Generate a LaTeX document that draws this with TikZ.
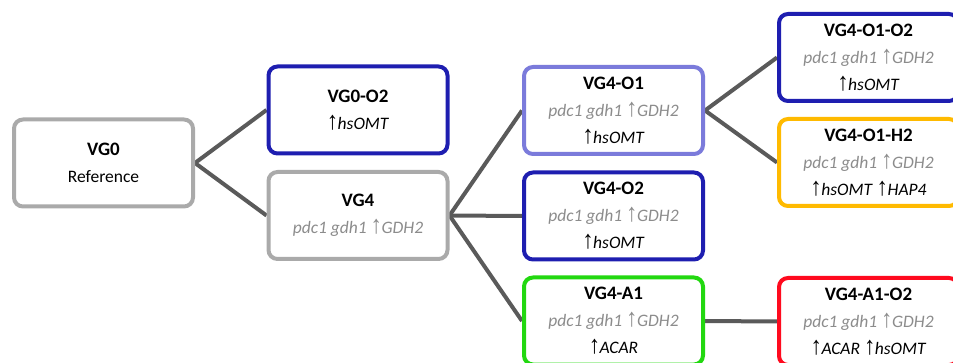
\documentclass[tikz,border=0pt]{standalone}
\usepackage{fontspec}
\setmainfont{Carlito}
\newfontfamily\arrowfont{Liberation Sans}
\usetikzlibrary{backgrounds}

\definecolor{basegray}{HTML}{AAAAAA}
\definecolor{darkblue}{HTML}{1E1EB0}
\definecolor{lightblue}{HTML}{7B7BDB}
\definecolor{limegreen}{HTML}{22D810}
\definecolor{amber}{HTML}{FFBA00}
\definecolor{brightred}{HTML}{FF0A1E}
\definecolor{linkgray}{HTML}{5A5A5A}
\definecolor{notegray}{HTML}{8C8C8C}

\newcommand\upar{\scalebox{1.3}[1.45]{\arrowfont\char"2191}\kern-0.5pt}
\newcommand\strainname[1]{{\fontsize{19}{27}\selectfont\bfseries #1}}
\newcommand\parentnote{{\color{notegray}\itshape pdc1 gdh1 \upar GDH2}}

\tikzset{
  strain/.style={draw=#1, rectangle, rounded corners=9pt, line width=4pt,
    minimum width=179pt, minimum height=87pt, inner sep=0pt, fill=white,
    align=center, font=\fontsize{17.5}{27}\selectfont},
  link/.style={draw=linkgray, line width=4pt}
}

\begin{document}
\begin{tikzpicture}[x=1pt,y=-1pt]
\useasboundingbox (0,0) rectangle (953,363);
\clip (0,0) rectangle (953,363);

\node[strain=basegray]  (vg0)   at (103.5,163)  {\strainname{VG0}\\ Reference};
\node[strain=darkblue]  (vg0o2) at (358,110)    {\strainname{VG0-O2}\\ \upar\textit{hsOMT}};
\node[strain=basegray]  (vg4)   at (358,215.5)  {\strainname{VG4}\\ \parentnote};

\node[strain=lightblue] (vg4o1) at (613.5,110.5) {\strainname{VG4-O1}\\ \parentnote\\ \upar\textit{hsOMT}};
\node[strain=darkblue]  (vg4o2) at (613.5,216)   {\strainname{VG4-O2}\\ \parentnote\\ \upar\textit{hsOMT}};
\node[strain=limegreen] (vg4a1) at (613.5,321)   {\strainname{VG4-A1}\\ \parentnote\\ \upar\textit{ACAR}};

\node[strain=darkblue]  (o1o2)  at (868.5,57.5)  {\strainname{VG4-O1-O2}\\ \parentnote\\ \upar\textit{hsOMT}};
\node[strain=amber]     (o1h2)  at (868.5,162.5) {\strainname{VG4-O1-H2}\\ \parentnote\\ \upar\textit{hsOMT} \upar\textit{HAP4}};
\node[strain=brightred] (a1o2)  at (868.5,321.5) {\strainname{VG4-A1-O2}\\ \parentnote\\ \upar\textit{ACAR} \upar\textit{hsOMT}};

\begin{scope}[on background layer]
  \draw[link] (vg0o2.west) -- (vg0.east) -- (vg4.west);
  \draw[link] (vg4o1.west) -- (vg4.east) -- (vg4a1.west);
  \draw[link] (vg4.east) -- (vg4o2.west);
  \draw[link] (o1o2.west) -- (vg4o1.east) -- (o1h2.west);
  \draw[link] (vg4a1.east) -- (a1o2.west);
\end{scope}
\end{tikzpicture}
\end{document}
